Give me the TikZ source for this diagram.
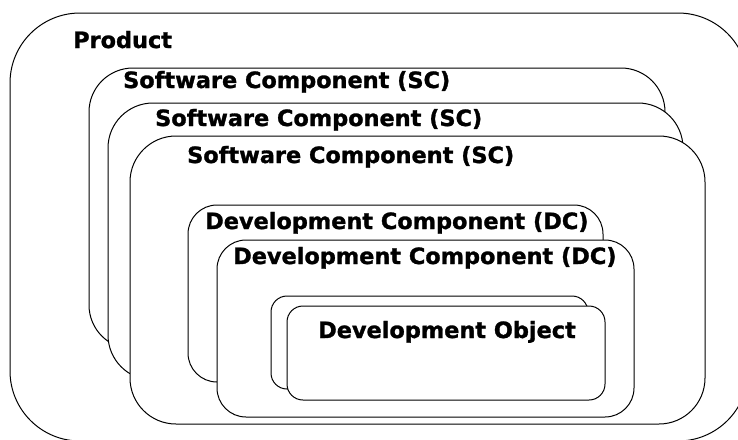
\documentclass[tikz,border=0pt]{standalone}
\usepackage{fontspec}
\setmainfont{DejaVu Sans}[BoldFeatures={FakeBold=1.3}]
\tikzset{
  box/.style={draw=black, fill=white, line width=1pt},
  lbl/.style={anchor=base west, inner sep=0pt, font=\fontsize{22.4}{26}\selectfont\bfseries}
}
\begin{document}
\begin{tikzpicture}[x=1pt,y=-1pt]
\useasboundingbox (0,0) rectangle (738,439);
\clip (0,0) rectangle (738,439);
% Product
\draw[box, rounded corners=70pt] (10,13) rectangle (748,441);
\node[lbl] (product) at (73,48) {Product};
% Software components
\draw[box, rounded corners=44pt] (89,68) rectangle (665,349);
\node[lbl] (sc1) at (123,88) {Software Component (SC)};
\draw[box, rounded corners=45pt] (108,103) rectangle (683,380);
\node[lbl] (sc2) at (155,126) {Software Component (SC)};
\draw[box, rounded corners=46pt] (130,136) rectangle (705,424);
\node[lbl] (sc3) at (187,163) {Software Component (SC)};
% Development components
\draw[box, rounded corners=29pt] (188,205) rectangle (603,382);
\node[lbl] (dc1) at (205,229) {Development Component (DC)};
\draw[box, rounded corners=29pt] (217,240) rectangle (634,417);
\node[lbl] (dc2) at (233,264) {Development Component (DC)};
% Development objects
\draw[box, rounded corners=16pt] (271,296) rectangle (588,389);
\draw[box, rounded corners=16pt] (287,306) rectangle (605,400);
\node[lbl] (do) at (318,338) {Development Object};
\end{tikzpicture}
\end{document}
